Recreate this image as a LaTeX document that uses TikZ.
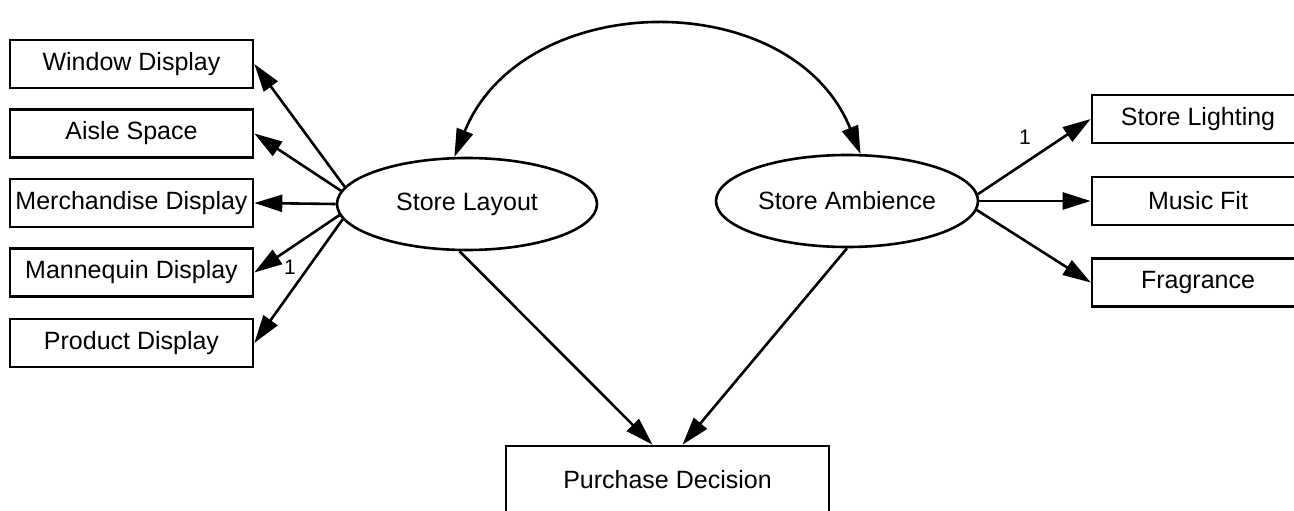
\documentclass[tikz,border=0pt]{standalone}
\usepackage{fontspec}
\setmainfont{Liberation Sans}
\usetikzlibrary{shapes.geometric,arrows.meta}

\begin{document}
\begin{tikzpicture}[x=0.5pt,y=0.5pt,
  itembox/.style={draw,line width=1.3pt,rectangle,inner sep=0pt,minimum height=24pt,font=\fontsize{12.5pt}{15pt}\selectfont},
  leftbox/.style={itembox,minimum width=121.5pt},
  rightbox/.style={itembox,minimum width=106pt},
  latent/.style={draw,line width=1.3pt,ellipse,inner sep=0pt,minimum height=46pt,font=\fontsize{12.5pt}{15pt}\selectfont},
  path/.style={line width=1.3pt,-{Triangle[length=14pt,width=8.5pt]}},
  coef/.style={inner sep=0pt,font=\fontsize{10.5pt}{12pt}\selectfont}]
\useasboundingbox (0,0) rectangle (1294,510);
\node[leftbox] (window) at (131.5,446) {Window Display};
\node[leftbox] (aisle) at (131.5,376.5) {Aisle Space};
\node[leftbox] (merch) at (131.5,307) {Merchandise Display};
\node[leftbox] (manneq) at (131.5,237.5) {Mannequin Display};
\node[leftbox] (product) at (131.5,167) {Product Display};
\node[latent,minimum width=130pt] (layout) at (467,306) {Store Layout};
\node[latent,minimum width=131pt] (ambience) at (847,309) {Store Ambience};
\node[rightbox] (lighting) at (1198,391) {Store Lighting};
\node[rightbox] (music) at (1198,309) {Music Fit};
\node[rightbox] (fragrance) at (1198,227.5) {Fragrance};
\node[itembox,minimum width=161.5pt,minimum height=34pt] (decision) at (667.5,30) {Purchase Decision};
\draw[path] (layout.172) -- (window.east);
\draw[path] (layout.174) -- (aisle.east);
\draw[path] (layout.west) -- (merch.east);
\draw[path] (layout.185) -- (manneq.east);
\draw[path] (layout.187) -- (product.east);
\draw[path] (ambience.3) -- (lighting.west);
\draw[path] (ambience.east) -- (music.west);
\draw[path] (ambience.-4) -- (fragrance.west);
\draw[path] (layout.261) -- ([xshift=-7.5pt]decision.north);
\draw[path] (ambience.south) -- ([xshift=7.5pt]decision.north);
\draw[line width=1.3pt,{Triangle[length=14pt,width=8.5pt]}-{Triangle[length=14pt,width=8.5pt]}] (layout.105) to [out=68,in=112,looseness=1.15] (ambience.74);
\node[coef] (one1) at (290,243) {1};
\node[coef] (one2) at (1025,373) {1};
\end{tikzpicture}
\end{document}
